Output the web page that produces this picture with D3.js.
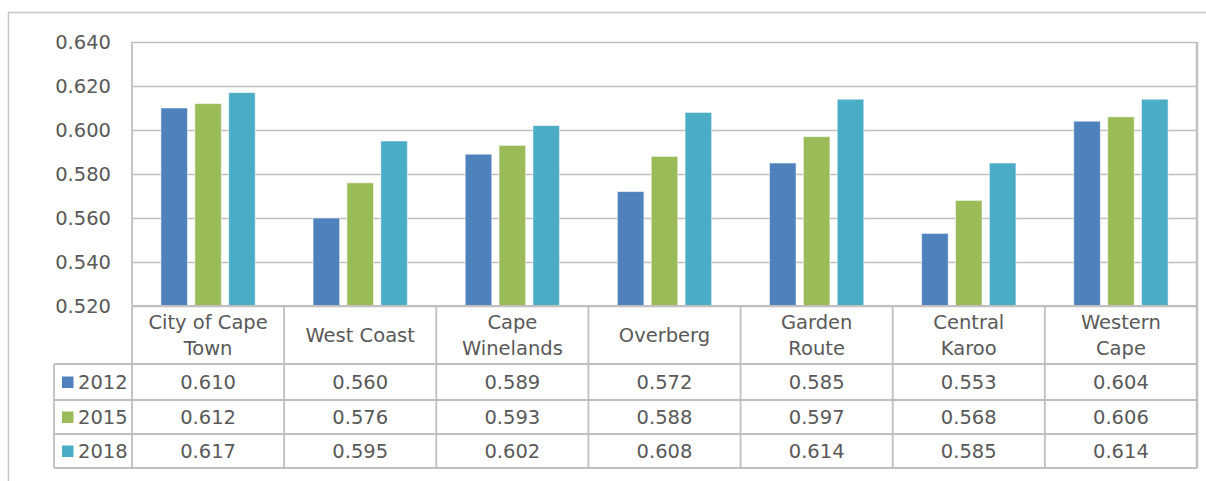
<!DOCTYPE html>
<html>
<head>
<meta charset="utf-8">
<script src="https://cdn.jsdelivr.net/npm/d3@7"></script>
<style>
  html, body { margin: 0; padding: 0; background: #fff; }
  svg { display: block; }
  text { font-family: "DejaVu Sans", sans-serif; fill: #595959; }
</style>
</head>
<body>
<svg id="chart" width="1206" height="481"></svg>
<script>
const categories = ["City of Cape\nTown", "West Coast", "Cape\nWinelands", "Overberg", "Garden\nRoute", "Central\nKaroo", "Western\nCape"];
const seriesNames = ["2012", "2015", "2018"];
const values2012 = [0.610, 0.560, 0.589, 0.572, 0.585, 0.553, 0.604];
const values2015 = [0.612, 0.576, 0.593, 0.588, 0.597, 0.568, 0.606];
const values2018 = [0.617, 0.595, 0.602, 0.608, 0.614, 0.585, 0.614];
const yTicks = [0.520, 0.540, 0.560, 0.580, 0.600, 0.620, 0.640];
const colors = ["#4F81BD", "#9BBB59", "#4BACC6"];

const series = [values2012, values2015, values2018];

const svg = d3.select("#chart");
const plotL = 132, plotR = 1197, plotT = 42, plotB = 306;
const catRowB = 364;
const rowBounds = [364, 400, 434, 468];
const legendL = 54;
const gridColor = "#BFBFBF";
const fs = 19.5;

// outer chart border
svg.append("rect").attr("x", 8.5).attr("y", 12.5).attr("width", 1210).attr("height", 500)
  .attr("fill", "none").attr("stroke", "#C8C8C8").attr("stroke-width", 1.5);

const x = d3.scaleBand().domain(d3.range(categories.length)).range([plotL, plotR]).padding(0);
const y = d3.scaleLinear().domain([0.520, 0.640]).range([plotB, plotT]);
const cw = x.bandwidth();
const inner = d3.scaleBand().domain(d3.range(3)).range([cw * 0.19, cw * 0.81]).paddingInner(0.215).paddingOuter(0);

// gridlines
svg.append("g").selectAll("line").data(yTicks).join("line")
  .attr("x1", plotL).attr("x2", plotR)
  .attr("y1", d => Math.round(y(d)) + 0.5).attr("y2", d => Math.round(y(d)) + 0.5)
  .attr("stroke", gridColor).attr("stroke-width", 1.6);

// y axis labels
const yAxis = d3.axisLeft(y).tickValues(yTicks).tickFormat(d3.format(".3f")).tickSize(0).tickPadding(21);
const ya = svg.append("g").attr("transform", `translate(${plotL},0)`).call(yAxis);
ya.select(".domain").remove();
ya.selectAll("text").style("font-family", "DejaVu Sans, sans-serif").style("font-size", fs + "px").attr("fill", "#595959");

// bars
series.forEach((vals, si) => {
  svg.append("g").selectAll("rect").data(vals).join("rect")
    .attr("x", (d, i) => x(i) + inner(si))
    .attr("width", inner.bandwidth())
    .attr("y", d => y(d))
    .attr("height", d => plotB - y(d))
    .attr("fill", colors[si])
    .attr("stroke", "rgba(255,255,255,0.55)").attr("stroke-width", 1);
});

// table lines
const tl = svg.append("g").attr("stroke", gridColor).attr("stroke-width", 1.8).attr("fill", "none");
// plot area left & right
tl.append("line").attr("x1", plotL).attr("x2", plotL).attr("y1", plotT).attr("y2", rowBounds[3]);
tl.append("line").attr("x1", plotR).attr("x2", plotR).attr("y1", plotT).attr("y2", rowBounds[3]).attr("stroke-width", 2.4);
// horizontal lines of the table
tl.append("line").attr("x1", plotL).attr("x2", plotR).attr("y1", plotB).attr("y2", plotB);
rowBounds.forEach(yy => {
  tl.append("line").attr("x1", legendL).attr("x2", plotR).attr("y1", yy).attr("y2", yy);
});
// legend column left
tl.append("line").attr("x1", legendL).attr("x2", legendL).attr("y1", rowBounds[0]).attr("y2", rowBounds[3]);
// category separators
d3.range(1, categories.length).forEach(i => {
  tl.append("line").attr("x1", x(i)).attr("x2", x(i)).attr("y1", plotB).attr("y2", rowBounds[3]);
});

// category labels
const catG = svg.append("g");
categories.forEach((c, i) => {
  const lines = c.split("\n");
  const cy = (plotB + catRowB) / 2;
  const lh = 26;
  const t = catG.append("text").attr("text-anchor", "middle")
    .style("font-size", fs + "px");
  lines.forEach((ln, li) => {
    t.append("tspan").attr("x", x(i) + cw / 2)
      .attr("y", cy + (li - (lines.length - 1) / 2) * lh)
      .attr("dy", "0.36em").text(ln);
  });
});

// data rows
const fmt = d3.format(".3f");
series.forEach((vals, si) => {
  const cy = (rowBounds[si] + rowBounds[si + 1]) / 2;
  svg.append("rect").attr("x", 62).attr("y", cy - 5.5).attr("width", 11.5).attr("height", 11.5).attr("fill", colors[si]);
  svg.append("text").attr("x", 78).attr("y", cy).attr("dy", "0.36em").style("font-size", fs + "px").text(seriesNames[si]);
  svg.append("g").selectAll("text").data(vals).join("text")
    .attr("x", (d, i) => x(i) + cw / 2).attr("y", cy).attr("dy", "0.36em")
    .attr("text-anchor", "middle").style("font-size", fs + "px")
    .text(d => fmt(d));
});
</script>
</body>
</html>
